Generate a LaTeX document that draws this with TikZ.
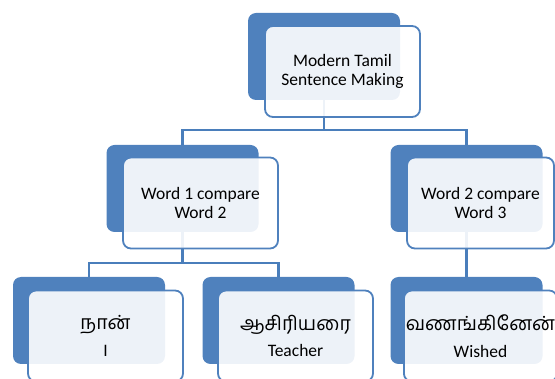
\documentclass[tikz,border=0pt]{standalone}
\usepackage{fontspec}
\setmainfont{Carlito}
\newfontfamily\tamilfont[Script=Tamil]{Hind Madurai}
\usetikzlibrary{positioning}
\definecolor{cBlue}{HTML}{4F81BD}
\definecolor{cLine}{HTML}{4A7EBB}
\newcommand{\tword}[1]{{\tamilfont\fontsize{19.5}{22}\selectfont #1}}
\tikzset{
  backb/.style  = {rectangle, rounded corners=8pt, fill=cBlue, inner sep=0pt,
                   minimum width=152pt, minimum height=87pt},
  frontb/.style = {rectangle, rounded corners=8pt, draw=cBlue, line width=1.8pt,
                   fill=white, fill opacity=0.9, text opacity=1, align=center,
                   font=\fontsize{17.5}{18.5}\selectfont, inner sep=2pt,
                   minimum width=155pt, minimum height=91pt},
  edgeb/.style  = {frontb, minimum width=147pt},
  fl/.style     = {draw=cLine, line width=2.5pt},
}
\begin{document}
\begin{tikzpicture}[x=1pt,y=-1pt]
      \useasboundingbox (0,0) rectangle (555,379);
      \clip (0,0) rectangle (555,379);

      % ---- BACK PLATES ----
      \node[backb] (topback)      at (324,56.5)    {};
      \node[backb] (w12back)      at (182.5,188.5) {};
      \node[backb] (w23back)      at (466.5,188.5) {};
      \node[backb] (naanback)     at (89,320.5)    {};
      \node[backb] (asiriyarback) at (278.5,320.5) {};
      \node[backb] (vanakback)    at (466.5,320.5) {};

      % ---- TREE ----
      \draw[fl] (topback.south) -- ++(0,30) -| (w12back.north);
      \draw[fl] (topback.south) -- ++(0,30) -| (w23back.north);
      \draw[fl] (w12back.south) -- ++(0,31) -| (naanback.north);
      \draw[fl] (w12back.south) -- ++(0,31) -| (asiriyarback.north);
      \draw[fl] (w23back.south) -- (vanakback.north);

      % ---- CARDS ----
      \node[frontb] (top)      at (342.5,71.5) {Modern Tamil\\Sentence Making};
      \node[frontb] (w12)      at (200.5,203)  {Word 1 compare\\Word 2};
      \node[edgeb]  (w23)      at (480.5,203)  {Word 2 compare\\Word 3};
      \node[frontb] (naan)     at (105.5,336)  {\tword{நான்}\\[8pt]I};
      \node[frontb] (asiriyar) at (295.5,336)  {\tword{ஆசிரியரை}\\[8pt]Teacher};
      \node[edgeb]  (vanak)    at (480.5,336)  {\tword{வணங்கினேன்}\\[8pt]Wished};
\end{tikzpicture}
\end{document}
